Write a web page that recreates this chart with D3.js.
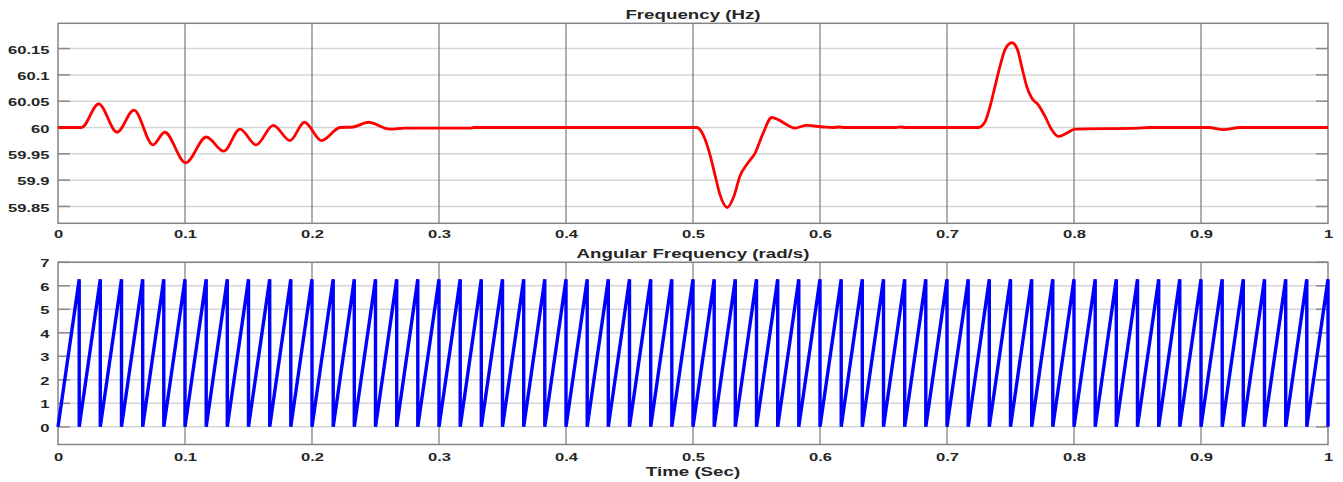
<!DOCTYPE html>
<html>
<head>
<meta charset="utf-8">
<script src="https://cdn.jsdelivr.net/npm/d3@7"></script>
<style>
  html, body { margin: 0; padding: 0; background: #fff; }
  svg { display: block; }
  text { font-family: "Liberation Sans", Arial, Helvetica, sans-serif; font-weight: bold; fill: #262626; }
</style>
</head>
<body>
<svg id="chart" width="1343" height="482"></svg>
<script>
// ---- data ----
const timeTicks = [0, 0.1, 0.2, 0.3, 0.4, 0.5, 0.6, 0.7, 0.8, 0.9, 1];
const timeTickLabels = ["0", "0.1", "0.2", "0.3", "0.4", "0.5", "0.6", "0.7", "0.8", "0.9", "1"];

const freqTicks = [59.85, 59.9, 59.95, 60, 60.05, 60.1, 60.15];
const freqTickLabels = ["59.85", "59.9", "59.95", "60", "60.05", "60.1", "60.15"];

const angleTicks = [0, 1, 2, 3, 4, 5, 6, 7];
const angleTickLabels = ["0", "1", "2", "3", "4", "5", "6", "7"];

// measured frequency (s, Hz)
const freqTime = [
  0, 0.0185, 0.032, 0.0465, 0.0598, 0.0748, 0.084, 0.1005, 0.1168, 0.1305,
  0.1433, 0.156, 0.1695, 0.1827, 0.194, 0.2076, 0.222, 0.2325, 0.2443, 0.2614,
  0.273, 0.326, 0.327, 0.503, 0.508, 0.5134, 0.5173, 0.5213, 0.527, 0.532,
  0.537, 0.543, 0.549, 0.555, 0.562, 0.567, 0.5764, 0.58, 0.5895,
  0.6026, 0.61, 0.615, 0.62, 0.66, 0.663, 0.668, 0.7247, 0.73, 0.7339,
  0.7378, 0.7417, 0.7457, 0.751, 0.7555, 0.7588, 0.7628, 0.7667, 0.7719, 0.7772,
  0.7824, 0.7875, 0.794, 0.8008, 0.85, 0.86, 0.906, 0.9176, 0.9307, 1.0
];
const freqHz = [
  60, 60, 60.045, 59.991, 60.033, 59.967, 59.991, 59.933, 59.982, 59.955,
  59.997, 59.967, 60.004, 59.975, 60.010, 59.975, 60.0, 60.001, 60.010, 59.997,
  59.999, 59.999, 60.0, 60.0, 59.986, 59.948, 59.910, 59.872, 59.848, 59.868,
  59.908, 59.932, 59.952, 59.988, 60.019, 60.015, 60.002, 59.999, 60.004,
  60.001, 60.0, 60.001, 60.0, 60.0, 60.001, 60.0, 60.0, 60.011, 60.040,
  60.078, 60.116, 60.148, 60.161, 60.148, 60.116, 60.078, 60.056, 60.043, 60.021,
  59.996, 59.983, 59.989, 59.997, 59.999, 60.0, 60.0, 59.996, 60.0, 60.0
];

// phase angle: ramps from 0 up to angleMax, resetting to 0 at these times (s)
const angleWrapTimes = [
  0.0167, 0.0333, 0.05, 0.0667, 0.0833, 0.1, 0.1167, 0.1333, 0.15, 0.1667,
  0.1833, 0.2, 0.2167, 0.2333, 0.25, 0.2667, 0.2833, 0.3, 0.3167, 0.3333,
  0.35, 0.3667, 0.3833, 0.4, 0.4167, 0.4333, 0.45, 0.4667, 0.4833, 0.5,
  0.5167, 0.5333, 0.55, 0.5667, 0.5833, 0.6, 0.6167, 0.6333, 0.65, 0.6667,
  0.6833, 0.7, 0.7167, 0.7333, 0.75, 0.7667, 0.7833, 0.8, 0.8167, 0.8333,
  0.85, 0.8667, 0.8833, 0.9, 0.9167, 0.9333, 0.95, 0.9667, 0.9833, 1.0
];
const angleMax = 6.2832;

// ---- layout ----
const SX = 1.44;          // horizontal stretch of the lettering
const plotLeft = 58, plotRight = 1328;
const topPanel = { top: 23.3, bottom: 223.3 };
const bottomPanel = { top: 262.3, bottom: 444.5 };

const svg = d3.select("#chart");

const x = d3.scaleLinear().domain([0, 1]).range([plotLeft, plotRight]);

function stretchedLabel(g, cx, y, str, size) {
  g.append("text")
    .attr("transform", `translate(${cx},${y}) scale(${SX},1)`)
    .attr("text-anchor", "middle")
    .style("font-size", size + "px")
    .text(str);
}

function drawPanel(panel, y, yTicks, yLabels, title, titleY, xPad) {
  const g = svg.append("g");
  const w = plotRight - plotLeft;
  const h = panel.bottom - panel.top;

  // horizontal grid
  g.append("g").selectAll("line").data(yTicks).join("line")
    .attr("x1", plotLeft).attr("x2", plotRight)
    .attr("y1", d => y(d)).attr("y2", d => y(d))
    .attr("stroke", "#d6d6d6").attr("stroke-width", 1.5);

  // vertical grid
  g.append("g").selectAll("line").data(timeTicks.slice(1, -1)).join("line")
    .attr("x1", d => x(d)).attr("x2", d => x(d))
    .attr("y1", panel.top).attr("y2", panel.bottom)
    .attr("stroke", "#6e6e6e").attr("stroke-width", 1.1);

  // inward tick marks on left and right edges
  const tickLen = 12;
  g.append("g").selectAll("line").data(yTicks).join("line")
    .attr("x1", plotLeft).attr("x2", plotLeft + tickLen)
    .attr("y1", d => y(d)).attr("y2", d => y(d))
    .attr("stroke", "#8a8a8a").attr("stroke-width", 1.5);
  g.append("g").selectAll("line").data(yTicks).join("line")
    .attr("x1", plotRight - tickLen).attr("x2", plotRight)
    .attr("y1", d => y(d)).attr("y2", d => y(d))
    .attr("stroke", "#8a8a8a").attr("stroke-width", 1.5);

  // box
  g.append("rect")
    .attr("x", plotLeft).attr("y", panel.top)
    .attr("width", w).attr("height", h)
    .attr("fill", "none").attr("stroke", "#858585").attr("stroke-width", 1.5);

  // x axis labels
  const xAxis = d3.axisBottom(x)
    .tickValues(timeTicks)
    .tickFormat((d, i) => timeTickLabels[i])
    .tickSize(0).tickPadding(xPad);
  const gx = g.append("g").attr("transform", `translate(0,${panel.bottom})`).call(xAxis);
  gx.select(".domain").remove();
  gx.selectAll("text")
    .attr("transform", `scale(${SX},1)`)
    .style("font-size", "11.5px").style("font-family", null).attr("fill", "#262626");

  // y axis labels
  const yPad = 8.5;
  const yAxis = d3.axisLeft(y)
    .tickValues(yTicks)
    .tickFormat((d, i) => yLabels[i])
    .tickSize(0).tickPadding(yPad);
  const gy = g.append("g").attr("transform", `translate(${plotLeft},0)`).call(yAxis);
  gy.select(".domain").remove();
  gy.selectAll("text")
    .attr("x", -yPad / SX)
    .attr("dy", "0.4em")
    .attr("transform", `scale(${SX},1)`)
    .style("font-size", "11.5px").style("font-family", null).attr("fill", "#262626");

  stretchedLabel(g, (plotLeft + plotRight) / 2, titleY, title, 13);
  return g;
}

// ---- frequency panel ----
const yFreq = d3.scaleLinear().domain([59.818, 60.198]).range([topPanel.bottom, topPanel.top]);
const gTop = drawPanel(topPanel, yFreq, freqTicks, freqTickLabels, "Frequency (Hz)", 19.4, 6.5);

const freqPoints = freqTime.map((t, i) => [t, freqHz[i]]);
gTop.append("path")
  .datum(freqPoints)
  .attr("fill", "none")
  .attr("stroke", "#ff0000")
  .attr("stroke-width", 2.8)
  .attr("stroke-linejoin", "round")
  .attr("d", d3.line().x(d => x(d[0])).y(d => yFreq(d[1])).curve(d3.curveMonotoneX));

// ---- angular frequency panel ----
const yAngle = d3.scaleLinear().domain([-0.75, 7]).range([bottomPanel.bottom, bottomPanel.top]);
const gBot = drawPanel(bottomPanel, yAngle, angleTicks, angleTickLabels, "Angular Frequency (rad/s)", 257.6, 8);

const anglePoints = [[0, 0]];
angleWrapTimes.forEach(t => {
  anglePoints.push([t, angleMax]);
  anglePoints.push([t, 0]);
});
gBot.append("path")
  .datum(anglePoints)
  .attr("fill", "none")
  .attr("stroke", "#0000ff")
  .attr("stroke-width", 3.4)
  .attr("d", d3.line().x(d => x(d[0])).y(d => yAngle(d[1])));

// x axis title
stretchedLabel(svg, (plotLeft + plotRight) / 2, 476, "Time (Sec)", 13);
</script>
</body>
</html>
